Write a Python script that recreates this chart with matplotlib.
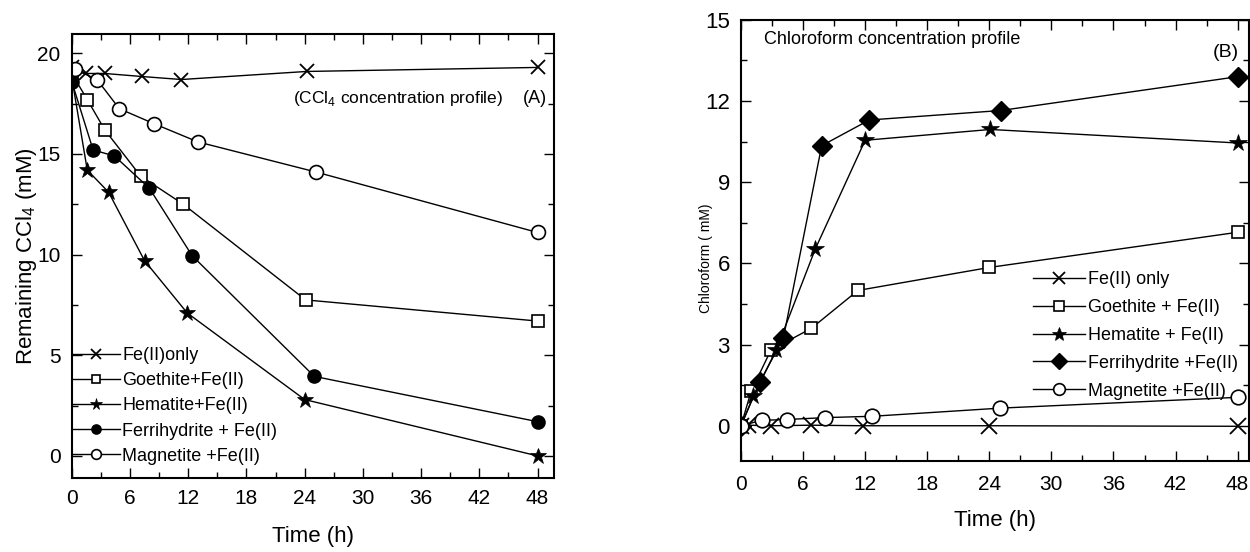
import matplotlib
matplotlib.use("Agg")
import matplotlib.pyplot as plt
from matplotlib.ticker import MultipleLocator

plt.rcParams['font.family'] = ['Liberation Sans', 'DejaVu Sans']
plt.rcParams['mathtext.fontset'] = 'custom'
plt.rcParams['mathtext.rm'] = 'Liberation Sans'

# ---------------- Panel A: remaining CCl4 ----------------
a_fe_t = [0, 1.5, 3.4, 7.2, 11.3, 24.2, 48]
a_fe_y = [19.3, 19.0, 19.0, 18.85, 18.7, 19.1, 19.3]
a_goe_t = [0, 1.6, 3.4, 7.1, 11.5, 24.1, 48]
a_goe_y = [19.0, 17.7, 16.2, 13.9, 12.5, 7.75, 6.7]
a_hem_t = [0, 1.6, 3.8, 7.5, 11.9, 24.0, 48]
a_hem_y = [18.8, 14.2, 13.1, 9.7, 7.1, 2.8, 0.0]
a_fer_t = [0, 2.2, 4.4, 8.0, 12.4, 25.0, 48]
a_fer_y = [18.6, 15.2, 14.9, 13.3, 9.95, 3.95, 1.7]
a_mag_t = [0.3, 2.6, 4.9, 8.5, 13.0, 25.2, 48]
a_mag_y = [19.2, 18.7, 17.25, 16.5, 15.6, 14.1, 11.1]

a_labels = ["Fe(II)only", "Goethite+Fe(II)", "Hematite+Fe(II)",
            "Ferrihydrite + Fe(II)", "Magnetite +Fe(II)"]

# ---------------- Panel B: chloroform ----------------
b_fe_t = [0, 0.7, 2.9, 6.8, 11.8, 24.0, 48]
b_fe_y = [0.0, 0.02, 0.0, 0.02, 0.0, 0.0, -0.02]
b_goe_t = [0, 1.0, 2.9, 6.8, 11.3, 24.0, 48]
b_goe_y = [0.0, 1.3, 2.8, 3.6, 5.0, 5.85, 7.15]
b_hem_t = [0, 1.2, 3.4, 7.2, 12.0, 24.1, 48]
b_hem_y = [0.0, 1.1, 2.8, 6.55, 10.55, 10.95, 10.45]
b_fer_t = [0, 1.8, 4.1, 7.8, 12.4, 25.1, 48]
b_fer_y = [0.0, 1.6, 3.25, 10.35, 11.3, 11.65, 12.9]
b_mag_t = [0, 2.0, 4.4, 8.1, 12.7, 25.0, 48]
b_mag_y = [0.0, 0.2, 0.23, 0.3, 0.35, 0.65, 1.05]

b_labels = ["Fe(II) only", "Goethite + Fe(II)", "Hematite + Fe(II)",
            "Ferrihydrite +Fe(II)", "Magnetite +Fe(II)"]

x_ticks = [0, 6, 12, 18, 24, 30, 36, 42, 48]

fig = plt.figure(figsize=(12.5, 5.52), dpi=100)
axA = fig.add_axes([0.0574, 0.134, 0.3858, 0.804])
axB = fig.add_axes([0.5928, 0.165, 0.4064, 0.799])

lw = 1.0
styles = [
    dict(marker='x', ms=10, mew=1.3, mfc='none', mec='black'),
    dict(marker='s', ms=8.5, mew=1.2, mfc='white', mec='black'),
    dict(marker='*', ms=12, mew=0.5, mfc='black', mec='black'),
    dict(marker='o', ms=9.5, mew=1.0, mfc='black', mec='black'),
    dict(marker='o', ms=10, mew=1.2, mfc='white', mec='black'),
]

seriesA = [(a_fe_t, a_fe_y), (a_goe_t, a_goe_y), (a_hem_t, a_hem_y),
           (a_fer_t, a_fer_y), (a_mag_t, a_mag_y)]
for (t, y), st, lab in zip(seriesA, styles, a_labels):
    axA.plot(t, y, color='black', lw=lw, label=lab, **st)

stylesB = [
    dict(marker='x', ms=11, mew=1.3, mfc='none', mec='black'),
    dict(marker='s', ms=9, mew=1.2, mfc='white', mec='black'),
    dict(marker='*', ms=13, mew=0.5, mfc='black', mec='black'),
    dict(marker='D', ms=10, mew=1.0, mfc='black', mec='black'),
    dict(marker='o', ms=10.5, mew=1.2, mfc='white', mec='black'),
]
seriesB = [(b_fe_t, b_fe_y), (b_goe_t, b_goe_y), (b_hem_t, b_hem_y),
           (b_fer_t, b_fer_y), (b_mag_t, b_mag_y)]
for (t, y), st, lab in zip(seriesB, stylesB, b_labels):
    axB.plot(t, y, color='black', lw=lw, label=lab, **st)

# ---- axes A formatting ----
axA.set_xlim(0, 49.7)
axA.set_ylim(-1.1, 20.95)
axA.set_xticks(x_ticks)
axA.set_yticks([0, 5, 10, 15, 20])
axA.xaxis.set_minor_locator(MultipleLocator(3))
axA.yaxis.set_minor_locator(MultipleLocator(2.5))
axA.tick_params(which='both', direction='in', top=True, right=True, width=1.0)
axA.tick_params(which='major', length=7, labelsize=15, pad=8)
axA.tick_params(which='minor', length=4)
axA.set_xlabel("Time (h)", fontsize=16, labelpad=13)
axA.set_ylabel("Remaining CCl$_4$ (mM)", fontsize=16)
axA.yaxis.set_label_coords(-0.068, 0.5)
for s in axA.spines.values():
    s.set_linewidth(1.5)
axA.text(0.459, 0.855, "(CCl$_4$ concentration profile)", transform=axA.transAxes,
         fontsize=12.5, ha='left', va='center')
axA.text(0.985, 0.855, "(A)", transform=axA.transAxes,
         fontsize=13, ha='right', va='center')
axA.legend(loc='lower left', bbox_to_anchor=(0.0, 0.03), frameon=False,
           fontsize=13, handlelength=2.65, handletextpad=0.15, labelspacing=0.45,
           markerscale=0.7, borderaxespad=0.0, borderpad=0.0)

# ---- axes B formatting ----
axB.set_xlim(0, 49.1)
axB.set_ylim(-1.3, 15)
axB.set_xticks(x_ticks)
axB.set_yticks([0, 3, 6, 9, 12, 15])
axB.xaxis.set_minor_locator(MultipleLocator(3))
axB.yaxis.set_minor_locator(MultipleLocator(1.5))
axB.tick_params(which='both', direction='in', top=True, right=True, width=1.0)
axB.tick_params(which='major', length=7, pad=8)
axB.tick_params(axis='x', which='major', labelsize=15, pad=10)
axB.tick_params(axis='y', which='major', labelsize=16)
axB.tick_params(which='minor', length=4)
axB.set_xlabel("Time (h)", fontsize=16, labelpad=12)
axB.set_ylabel("Chloroform ( mM)", fontsize=10)
axB.yaxis.set_label_coords(-0.055, 0.46)
for s in axB.spines.values():
    s.set_linewidth(1.5)
axB.text(0.045, 0.955, "Chloroform concentration profile", transform=axB.transAxes,
         fontsize=13, ha='left', va='center')
axB.text(0.955, 0.925, "(B)", transform=axB.transAxes, fontsize=14, ha='center', va='center')
axB.legend(loc='upper left', bbox_to_anchor=(0.575, 0.43), frameon=False,
           fontsize=13, handlelength=2.9, handletextpad=0.15, labelspacing=0.6,
           markerscale=0.8, borderaxespad=0.0, borderpad=0.0)

fig.savefig("out.png", dpi=100)
